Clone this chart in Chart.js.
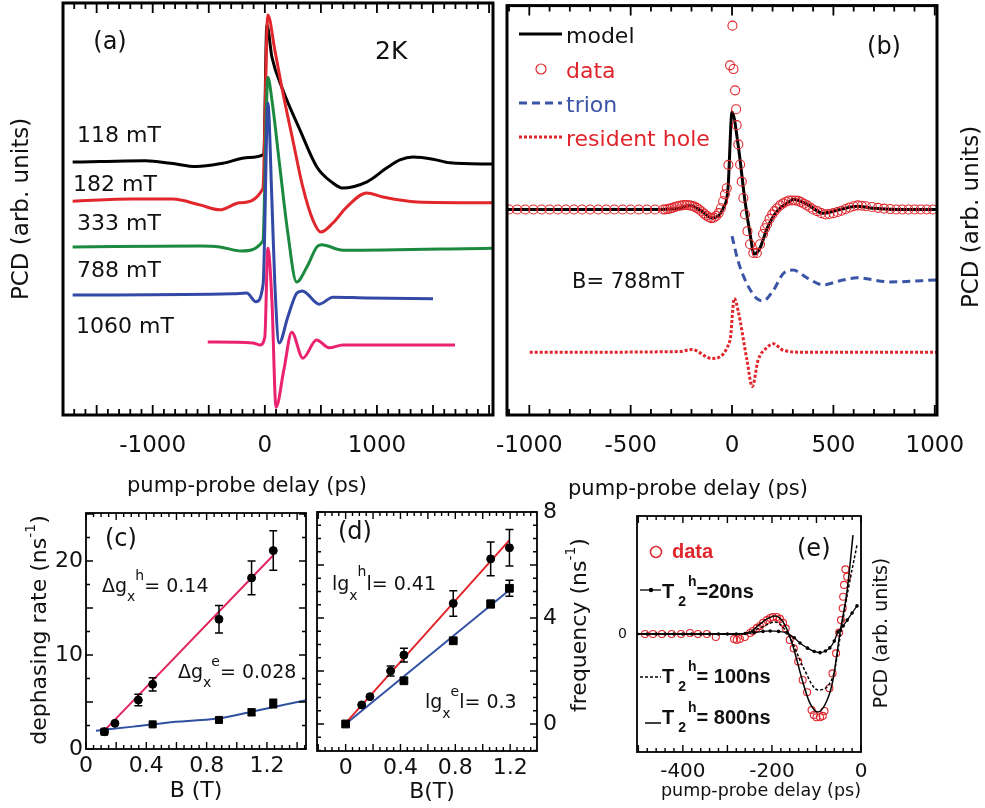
<!DOCTYPE html>
<html>
<head>
<meta charset="utf-8">
<script src="https://cdn.jsdelivr.net/npm/chart.js@4.4.1/dist/chart.umd.min.js"></script>
<style>
html, body { margin: 0; background: #fff; }
#lienzo { position: relative; width: 985px; height: 808px; }
#lienzo canvas { position: absolute; left: 0; top: 0; }
</style>
</head>
<body>
<div id="lienzo">
  <canvas id="ga" width="985" height="808"></canvas>
  <canvas id="gb" width="985" height="808"></canvas>
  <canvas id="gc" width="985" height="808"></canvas>
  <canvas id="gd" width="985" height="808"></canvas>
  <canvas id="ge" width="985" height="808"></canvas>
</div>
<script>
// ---------- (a) traces at 2K, offset vertically (arb. units) ----------
const tA118 = [-1714, -1473, -1063, -839, -610, -375, -143, -9, 18, 63, 161, 313, 464, 607, 690, 911, 1089, 1205, 1321, 1500, 1652, 2027];
const vA118 = [61.4, 61.5, 61.7, 61.1, 60.3, 61.1, 62.5, 63.3, 94.7, 86.9, 78.9, 69.2, 60.2, 56.3, 55.1, 56.6, 60.0, 61.9, 62.6, 62.1, 61.2, 60.9];
const tA182 = [-1714, -1179, -821, -580, -402, -223, -18, 27, 89, 161, 250, 339, 429, 500, 607, 732, 908, 1054, 1357, 2027];
const vA182 = [51.9, 52.4, 52.4, 51.0, 49.8, 51.5, 54.9, 97.1, 88.6, 78.2, 66.7, 55.3, 47.3, 44.4, 46.6, 50.5, 53.9, 52.9, 51.7, 51.5];
const tA333 = [-1714, -580, -402, -208, -18, 27, 63, 134, 205, 283, 375, 464, 506, 696, 2027];
const vA333 = [40.8, 41.0, 40.8, 39.8, 42.2, 82.0, 76.5, 60.2, 44.2, 32.3, 35.9, 40.8, 41.3, 40.0, 40.5];
const tA788 = [-1714, -286, -161, -80, -15, 27, 63, 89, 128, 205, 286, 335, 485, 607, 911, 1500];
const vA788 = [29.1, 29.4, 29.6, 27.5, 31.8, 75.7, 52.2, 32.0, 17.5, 23.8, 29.6, 30.1, 26.9, 28.6, 28.4, 28.2];
const tA1060 = [-509, -107, -45, 0, 27, 63, 100, 170, 240, 339, 461, 575, 696, 1696];
const vA1060 = [17.7, 17.5, 17.0, 18.9, 40.5, 27.9, 1.9, 11.0, 20.1, 13.8, 18.2, 16.3, 17.0, 17.0];
const ticksA = [-1000, 0, 1000];
const etiquetasA = ['-1000', '0', '1000'];

// ---------- (b) B = 788 mT ----------
const tModeloB = [-1110, -400, -272, -207, -150, -99, -44, -20, 0, 30, 64, 89, 109, 138, 173, 222, 286, 301, 370, 449, 533, 617, 696, 864, 1011];
const vModeloB = [50.2, 50.2, 50.4, 51.2, 49.8, 48.1, 50.5, 55.3, 74.0, 66.0, 52.2, 44.2, 39.3, 40.8, 45.6, 49.8, 52.2, 52.7, 51.5, 49.3, 50.2, 51.0, 50.5, 50.2, 50.2];
const tDatosB = [-1100, -1060, -1020, -980, -940, -900, -860, -820, -780, -740, -700, -660, -620, -580, -540, -500, -460, -420, -380, -340,
  -330, -318, -306, -294, -282, -270, -258, -246, -234, -222, -210, -198, -186, -174, -162, -150, -138, -126, -114, -102, -90, -78, -66, -55,
  -44, -35, -26, -18, -10, 2, 7, 15, 20, 23, 31, 40, 48, 56, 64, 76, 89, 105, 122, 138, 153, 163, 173, 185, 198, 210, 222, 237, 252, 267,
  281, 296, 311, 326, 340, 355, 370, 385, 400, 420, 440, 460, 480, 500, 520, 540, 560, 580, 600, 620, 640, 660, 690, 720, 750, 780, 810,
  840, 870, 900, 930, 960, 990];
const vDatosB = [50.2, 50.2, 50.2, 50.2, 50.2, 50.2, 50.2, 50.2, 50.2, 50.2, 50.2, 50.2, 50.2, 50.2, 50.2, 50.2, 50.2, 50.2, 50.2, 50.2,
  50.2, 50.3, 50.4, 50.6, 50.8, 51.0, 51.1, 51.2, 51.3, 51.3, 51.2, 51.1, 50.9, 50.6, 50.2, 49.7, 49.2, 48.7, 48.3, 48.1, 48.2, 48.6, 49.3, 50.5,
  52.2, 53.9, 55.4, 61.1, 85.4, 95.1, 84.5, 79.3, 74.7, 70.8, 66.1, 61.2, 57.0, 53.0, 49.0, 44.9, 41.7, 39.6, 39.6, 41.7, 44.2, 45.6, 46.6, 47.9, 49.0, 49.8, 50.5, 51.2, 51.7, 52.1,
  52.4, 52.4, 52.4, 52.3, 52.0, 51.6, 51.2, 50.7, 50.2, 49.8, 49.3, 49.0, 49.1, 49.3, 49.6, 49.9, 50.3, 50.7, 51.0, 51.2, 51.1, 51.0, 50.8, 50.6, 50.4, 50.3, 50.2,
  50.2, 50.2, 50.2, 50.2, 50.2, 50.2];
const tTrionB = [0, 30, 74, 123, 153, 202, 252, 301, 370, 449, 533, 617, 780, 1011];
const vTrionB = [43.7, 37.6, 32.0, 28.4, 27.9, 30.3, 34.5, 35.4, 33.5, 31.8, 32.8, 33.5, 32.5, 33.0];
const tHuecoB = [-998, -257, -198, -100, -10, 11, 30, 74, 100, 128, 173, 204, 253, 370, 1011];
const vHuecoB = [15.3, 15.5, 16.0, 13.8, 18.2, 28.5, 25.5, 13.3, 6.9, 13.3, 16.5, 17.4, 15.8, 15.3, 15.3];
const ticksB = [-1000, -500, 0, 500, 1000];
const etiquetasB = ['-1000', '-500', '0', '500', '1000'];

// ---------- (c) dephasing rate vs B ----------
const bHuecoC = [0.122, 0.192, 0.347, 0.442, 0.882, 1.098, 1.242];
const tasaHuecoC = [1.84, 2.73, 5.21, 6.88, 13.8, 18.2, 21.1];
const errHuecoC = [0, 0, 0.6, 0.7, 1.45, 1.8, 2.1];
const bElecC = [0.122, 0.442, 0.882, 1.098, 1.242];
const tasaElecC = [1.84, 2.62, 3.09, 3.9, 4.85];
const errElecC = [0, 0, 0, 0.35, 0.45];
const bAjusteHC = [0.122, 1.242];
const tasaAjusteHC = [1.95, 20.6];
const bAjusteEC = [0.066, 0.314, 0.535, 0.882, 1.098, 1.459];
const tasaAjusteEC = [1.95, 2.38, 2.8, 3.26, 3.97, 5.2];
const ticksXC = [0, 0.4, 0.8, 1.2];
const etiquetasXC = ['0', '0.4', '0.8', '1.2'];
const ticksYC = [0, 10, 20];
const etiquetasYC = ['0', '10', '20'];

// ---------- (d) frequency vs B ----------
const bHuecoD = [0.117, 0.177, 0.328, 0.425, 0.785, 1.058, 1.195];
const frecHuecoD = [0.72, 1.03, 2.0, 2.6, 4.55, 6.23, 6.65];
const errHuecoD = [0, 0, 0.19, 0.26, 0.48, 0.64, 0.69];
const bElecD = [0, 0.425, 0.785, 1.058, 1.195];
const frecElecD = [0, 1.63, 3.14, 4.53, 5.12];
const errElecD = [0, 0, 0, 0.14, 0.3];
const bAjusteHD = [0, 1.195];
const frecAjusteHD = [0.03, 6.94];
const bAjusteED = [0, 1.195];
const frecAjusteED = [0, 5.06];
const ticksXD = [0, 0.4, 0.8, 1.2];
const etiquetasXD = ['0', '0.4', '0.8', '1.2'];
const ticksYD = [0, 4, 8];
const etiquetasYD = ['0', '4', '8'];

// ---------- (e) negative delays ----------
const tDatosE = [-485, -467, -447, -425, -404, -384, -366, -346, -326, -285, -279, -272, -261, -249, -243, -234, -227, -220, -211, -204, -198, -189, -182,
  -175, -169, -160, -151, -141, -131, -121, -111, -106, -100, -92, -86, -82, -71, -64, -56, -49, -45, -41, -40, -38, -35, -31];
const vDatosE = [0, 0, 0, 0, 0, 0.4, 0, 0, -1.3, -2.1, -2.5, -2.1, -1.3, 0.4, 1.3, 2.5, 3.4, 4.7, 5.9, 6.8, 7.2, 7.2, 6.4,
  4.7, 2.4, -2.5, -6.1, -11.7, -19.5, -24.7, -32.2, -34.3, -35.3, -35.3, -34.7, -32.6, -23.0, -16.7, -8.2, 0.6, 5.9, 10.9, 15.8, 20.8, 27.4, 24.3];
const tE800 = [-503, -272, -249, -227, -211, -193, -175, -155, -130, -115, -97, -76, -63, -47, -31, -18];
const vE800 = [0, 0, 0.8, 4.2, 6.4, 7.6, 5.1, -3.8, -20.8, -29.2, -33.1, -28.0, -19.5, 0.8, 18.6, 41.9];
const tE100 = [-503, -272, -227, -193, -160, -130, -97, -63, -47, -29, -9];
const vE100 = [0, 0, 2.5, 5.1, -1.3, -14.0, -23.7, -18.1, -1.3, 18.6, 37.7];
const tE20 = [-503, -480, -460, -440, -420, -400, -380, -360, -340, -320, -300, -280, -260, -240, -220, -204, -185, -166, -150, -137, -120, -105, -92, -80, -70, -60, -52, -40, -31, -20, -9];
const vE20 = [0, 0, 0, 0, 0, 0, 0, 0, 0, 0, 0, 0, 0.2, 0.6, 1.1, 1.3, 1.1, 0.4, -1.6, -3.8, -6.0, -7.4, -7.9, -7.2, -5.9, -3.0, 0.8, 3.4, 5.9, 8.9, 11.9];
const ticksXE = [-400, -200, 0];
const etiquetasXE = ['-400', '-200', '0'];
const ticksYE = [0];
const etiquetasYE = ['0'];

// ---------- helpers ----------
const negro = '#111';
const DV = "'DejaVu Sans'";
Chart.defaults.font.family = DV;
Chart.defaults.color = negro;

function pts(xs, ys) {
  return xs.map((x, i) => ({x: x, y: ys[i]}));
}

function linea(xs, ys, color, ancho, extra) {
  return Object.assign({
    data: pts(xs, ys), showLine: true, borderColor: color, borderWidth: ancho,
    pointRadius: 0, cubicInterpolationMode: 'monotone', fill: false
  }, extra || {});
}

function ejeX(min, max, valores, etiquetas, tam, pad, alto, titulo) {
  return {
    type: 'linear', position: 'bottom', min: min, max: max,
    afterBuildTicks: s => { s.ticks = valores.map(v => ({value: v})); },
    afterFit: s => { s.height = alto; },
    ticks: {callback: (v, i) => etiquetas[i], font: {size: tam}, color: negro, padding: pad,
            maxRotation: 0, minRotation: 0, autoSkip: false},
    grid: {display: false, drawTicks: false},
    border: {display: false},
    title: titulo ? {display: true, text: titulo.texto, font: {size: titulo.tam}, color: negro,
                     padding: 0, align: titulo.align || 'center'} : {display: false}
  };
}

function ejeY(pos, min, max, valores, etiquetas, tam, pad, ancho, titulo) {
  const eje = {
    type: 'linear', position: pos, min: min, max: max,
    afterFit: s => { s.width = ancho; },
    ticks: {display: false},
    grid: {display: false, drawTicks: false},
    border: {display: false},
    title: titulo ? {display: true, text: titulo.texto, font: {size: titulo.tam}, color: negro, padding: 0} : {display: false}
  };
  if (valores) {
    eje.afterBuildTicks = s => { s.ticks = valores.map(v => ({value: v})); };
    eje.ticks = {display: true, callback: (v, i) => etiquetas[i], font: {size: tam}, color: negro, padding: pad, autoSkip: false};
  }
  return eje;
}

// frame around the plot area with inward tick marks
function conMarco(cfg) {
  return {
    id: 'marco',
    afterDatasetsDraw(chart) {
      const {ctx, chartArea: a} = chart;
      const x = chart.scales.x, y = chart.scales.y;
      ctx.save();
      ctx.strokeStyle = '#000';
      ctx.lineWidth = cfg.grosor;
      ctx.strokeRect(a.left, a.top, a.right - a.left, a.bottom - a.top);
      ctx.lineWidth = cfg.grosorMarca;
      ctx.beginPath();
      (cfg.marcasX || []).forEach(m => {
        for (let k = Math.ceil(x.min / m.paso - 1e-6); k * m.paso <= x.max + 1e-6; k++) {
          const px = x.getPixelForValue(k * m.paso);
          ctx.moveTo(px, a.bottom); ctx.lineTo(px, a.bottom - m.largo);
          ctx.moveTo(px, a.top); ctx.lineTo(px, a.top + m.largo);
        }
      });
      (cfg.marcasY || []).forEach(m => {
        for (let k = Math.ceil(y.min / m.paso - 1e-6); k * m.paso <= y.max + 1e-6; k++) {
          const py = y.getPixelForValue(k * m.paso);
          ctx.moveTo(a.left, py); ctx.lineTo(a.left + m.largo, py);
          ctx.moveTo(a.right, py); ctx.lineTo(a.right - m.largo, py);
        }
      });
      ctx.stroke();
      ctx.restore();
    }
  };
}

// vertical error bars taken from dataset.errores
const barras = {
  id: 'barras',
  afterDatasetsDraw(chart) {
    const ctx = chart.ctx, y = chart.scales.y;
    chart.data.datasets.forEach((ds, i) => {
      if (!ds.errores) return;
      const meta = chart.getDatasetMeta(i);
      ctx.save();
      ctx.strokeStyle = '#000';
      ctx.lineWidth = 1.5;
      meta.data.forEach((p, j) => {
        const e = ds.errores[j];
        if (!e) return;
        const v = ds.data[j].y;
        const y1 = y.getPixelForValue(v - e), y2 = y.getPixelForValue(v + e);
        ctx.beginPath();
        ctx.moveTo(p.x, y1); ctx.lineTo(p.x, y2);
        ctx.moveTo(p.x - 4, y1); ctx.lineTo(p.x + 4, y1);
        ctx.moveTo(p.x - 4, y2); ctx.lineTo(p.x + 4, y2);
        ctx.stroke();
      });
      ctx.restore();
    });
  }
};

function escribir(ctx, it) {
  const partes = it.partes || [{s: it.s}];
  ctx.translate(it.x, it.y);
  if (it.rot) ctx.rotate(it.rot);
  ctx.textBaseline = 'middle';
  ctx.textAlign = 'left';
  let total = 0;
  const anchos = partes.map(p => {
    ctx.font = p.f || it.f;
    const w = ctx.measureText(p.s).width + (p.dx || 0);
    total += w;
    return w;
  });
  let x0 = it.a === 'center' ? -total / 2 : (it.a === 'right' ? -total : 0);
  partes.forEach((p, k) => {
    ctx.font = p.f || it.f;
    ctx.fillStyle = p.c || it.c || negro;
    ctx.fillText(p.s, x0 + (p.dx || 0), p.dy || 0);
    x0 += anchos[k];
  });
}

// free text, legend samples and rich labels
function conTextos(items) {
  return {
    id: 'textos',
    afterDraw(chart) {
      const ctx = chart.ctx;
      items.forEach(it => {
        ctx.save();
        if (it.linea) {
          ctx.strokeStyle = it.c; ctx.lineWidth = it.lw;
          ctx.setLineDash(it.dash || []);
          ctx.beginPath(); ctx.moveTo(it.linea[0], it.linea[2]); ctx.lineTo(it.linea[1], it.linea[2]); ctx.stroke();
        } else if (it.circulo) {
          ctx.beginPath(); ctx.arc(it.circulo[0], it.circulo[1], it.circulo[2], 0, Math.PI * 2);
          if (it.relleno) { ctx.fillStyle = it.c; ctx.fill(); }
          else { ctx.strokeStyle = it.c; ctx.lineWidth = it.lw; ctx.stroke(); }
        } else {
          escribir(ctx, it);
        }
        ctx.restore();
      });
    }
  };
}

function panel(id, area, escalas, datasets, extras) {
  return new Chart(document.getElementById(id), {
    type: 'scatter',
    data: {datasets: datasets},
    options: {
      responsive: false, animation: false, devicePixelRatio: 1,
      layout: {padding: {left: area.l - (area.wy || 0), top: area.t,
                         right: 985 - area.r - (area.wr || 0), bottom: 808 - area.b - area.hx}},
      scales: escalas,
      plugins: {legend: {display: false}, tooltip: {enabled: false}}
    },
    plugins: [barras].concat(extras)
  });
}

const f = (tam) => tam + 'px ' + DV;
const fb = (tam) => 'bold ' + tam + "px 'Liberation Sans'";

// ---------- (a) ----------
panel('ga', {l: 63, t: 3, r: 493, b: 415, wy: 55, hx: 50}, {
  x: ejeX(-1800, 2035, ticksA, etiquetasA, 23, 17, 50, null),
  y: ejeY('left', 0, 100, null, null, 0, 0, 55, {texto: 'PCD (arb. units)', tam: 23})
}, [
  linea(tA1060, vA1060, '#ea2270', 3),
  linea(tA788, vA788, '#3349a6', 3),
  linea(tA333, vA333, '#1b8a3f', 3),
  linea(tA182, vA182, '#e1262c', 3),
  linea(tA118, vA118, '#000', 3)
], [
  conMarco({grosor: 3, grosorMarca: 1.8, marcasX: [{paso: 100, largo: 6}, {paso: 500, largo: 10}]}),
  conTextos([
    {x: 110, y: 43, s: '(a)', f: f(24), a: 'center'},
    {x: 375, y: 52, s: '2K', f: f(25)},
    {x: 77, y: 136, s: '118 mT', f: f(22)},
    {x: 73, y: 185, s: '182 mT', f: f(22)},
    {x: 77, y: 224, s: '333 mT', f: f(22)},
    {x: 77, y: 271, s: '788 mT', f: f(22)},
    {x: 76, y: 327, s: '1060 mT', f: f(22)},
    {x: 127, y: 487, s: 'pump-probe delay (ps)', f: f(21)}
  ])
]);

// ---------- (b) ----------
panel('gb', {l: 507, t: 3, r: 937, b: 415, hx: 50}, {
  x: ejeX(-1110, 1011, ticksB, etiquetasB, 23, 17, 50, null),
  y: {type: 'linear', display: false, min: 0, max: 100}
}, [
  {data: pts(tDatosB, vDatosB), pointStyle: 'circle', pointRadius: 4.5, pointBorderWidth: 1.1,
   pointBorderColor: '#e0262c', pointBackgroundColor: 'rgba(0,0,0,0)'},
  linea(tModeloB, vModeloB, '#000', 3),
  linea(tTrionB, vTrionB, '#3a55a8', 3, {borderDash: [8, 5]}),
  linea(tHuecoB, vHuecoB, '#e0262c', 3, {borderDash: [3, 2]})
], [
  conMarco({grosor: 3, grosorMarca: 1.8, marcasX: [{paso: 100, largo: 6}, {paso: 500, largo: 10}]}),
  conTextos([
    {linea: [519, 562, 34], c: '#000', lw: 3},
    {x: 566, y: 37, s: 'model', f: f(22)},
    {circulo: [541, 69, 5], c: '#e0262c', lw: 1.2},
    {x: 566, y: 72, s: 'data', f: f(22), c: '#e0262c'},
    {linea: [519, 562, 103], c: '#3a55a8', lw: 3, dash: [8, 5]},
    {x: 566, y: 106, s: 'trion', f: f(22), c: '#3a55a8'},
    {linea: [519, 562, 137], c: '#e0262c', lw: 3, dash: [3, 2]},
    {x: 566, y: 140, s: 'resident hole', f: f(22), c: '#e0262c'},
    {x: 884, y: 48, s: '(b)', f: f(24), a: 'center'},
    {x: 572, y: 283, s: 'B= 788mT', f: f(21)},
    {x: 568, y: 490, s: 'pump-probe delay (ps)', f: f(21)},
    {x: 972, y: 217, s: 'PCD (arb. units)', f: f(23), a: 'center', rot: -Math.PI / 2}
  ])
]);

// ---------- (c) ----------
panel('gc', {l: 86, t: 513, r: 306, b: 749, wy: 50, hx: 55}, {
  x: ejeX(0, 1.459, ticksXC, etiquetasXC, 22, 4, 55, {texto: 'B (T)', tam: 22}),
  y: ejeY('left', 0, 25.1, ticksYC, etiquetasYC, 22, 3, 50, null)
}, [
  {data: pts(bHuecoC, tasaHuecoC), errores: errHuecoC, pointStyle: 'circle', pointRadius: 4,
   pointBackgroundColor: '#000', pointBorderColor: '#000'},
  {data: pts(bElecC, tasaElecC), errores: errElecC, pointStyle: 'rect', pointRadius: 5,
   pointBackgroundColor: '#000', pointBorderColor: '#000'},
  linea(bAjusteHC, tasaAjusteHC, '#e2245e', 2),
  linea(bAjusteEC, tasaAjusteEC, '#3050a0', 2)
], [
  conMarco({grosor: 1.8, grosorMarca: 1.4, marcasX: [{paso: 0.05, largo: 4}, {paso: 0.2, largo: 7}],
            marcasY: [{paso: 2.5, largo: 4}, {paso: 5, largo: 7}]}),
  conTextos([
    {x: 105, y: 540, s: '(c)', f: f(24)},
    {x: 102, y: 587, f: f(19), partes: [{s: 'Δg'}, {s: 'x', f: f(14), dy: 10}, {s: 'h', f: f(14), dy: -11}, {s: '= 0.14'}]},
    {x: 178, y: 673, f: f(19), partes: [{s: 'Δg'}, {s: 'x', f: f(14), dy: 10}, {s: 'e', f: f(14), dy: -11}, {s: '= 0.028'}]},
    {x: 40, y: 630, f: f(22), a: 'center', rot: -Math.PI / 2,
     partes: [{s: 'dephasing rate (ns'}, {s: '-1', f: f(14), dy: -9}, {s: ')'}]}
  ])
]);

// ---------- (d) ----------
panel('gd', {l: 317, t: 512, r: 537, b: 751, wr: 40, hx: 55}, {
  x: ejeX(-0.209, 1.396, ticksXD, etiquetasXD, 22, 4, 55, null),
  y: ejeY('right', -1.02, 8.0, ticksYD, etiquetasYD, 22, 6, 40, null)
}, [
  {data: pts(bHuecoD, frecHuecoD), errores: errHuecoD, pointStyle: 'circle', pointRadius: 4,
   pointBackgroundColor: '#000', pointBorderColor: '#000'},
  {data: pts(bElecD, frecElecD), errores: errElecD, pointStyle: 'rect', pointRadius: 5.5,
   pointBackgroundColor: '#000', pointBorderColor: '#000'},
  linea(bAjusteHD, frecAjusteHD, '#e3262b', 2),
  linea(bAjusteED, frecAjusteED, '#3352a3', 2)
], [
  conMarco({grosor: 1.8, grosorMarca: 1.4, marcasX: [{paso: 0.05, largo: 4}, {paso: 0.2, largo: 7}],
            marcasY: [{paso: 0.5, largo: 4}, {paso: 2, largo: 7}]}),
  conTextos([
    {x: 338, y: 533, s: '(d)', f: f(24)},
    {x: 332, y: 585, f: f(19), partes: [{s: 'lg'}, {s: 'x', f: f(14), dy: 11}, {s: 'h', f: f(14), dy: -13}, {s: 'l= 0.41'}]},
    {x: 425, y: 703, f: f(19), partes: [{s: 'lg'}, {s: 'x', f: f(14), dy: 11}, {s: 'e', f: f(14), dy: -11}, {s: 'l= 0.3'}]},
    {x: 432, y: 792, s: 'B(T)', f: f(22), a: 'center'},
    {x: 580, y: 625, f: f(22), a: 'center', rot: -Math.PI / 2,
     partes: [{s: 'frequency (ns'}, {s: '-1', f: f(14), dy: -9}, {s: ')'}]}
  ])
]);

// ---------- (e) ----------
panel('ge', {l: 637, t: 516, r: 861, b: 752, wy: 30, hx: 50}, {
  x: ejeX(-503, 0, ticksXE, etiquetasXE, 20, 8, 50, {texto: 'pump-probe delay (ps)', tam: 17.5, align: 'end'}),
  y: ejeY('left', -50, 50, ticksYE, etiquetasYE, 14, 10, 30, null)
}, [
  linea(tE800, vE800, '#000', 1.5),
  linea(tE100, vE100, '#000', 1.5, {borderDash: [3, 2]}),
  linea(tE20, vE20, '#000', 1.3, {pointRadius: 1.8, pointBackgroundColor: '#000', pointBorderWidth: 0}),
  {data: pts(tDatosE, vDatosE), pointStyle: 'circle', pointRadius: 3.5, pointBorderWidth: 1.1,
   pointBorderColor: '#e0262c', pointBackgroundColor: 'rgba(0,0,0,0)'}
], [
  conMarco({grosor: 1.8, grosorMarca: 1.4, marcasX: [{paso: 20, largo: 4}, {paso: 100, largo: 7}]}),
  conTextos([
    {circulo: [656, 552, 5.5], c: '#e0262c', lw: 1.5},
    {x: 672, y: 552, s: 'data', f: fb(20), c: '#e0262c'},
    {linea: [640, 661, 590], c: '#000', lw: 1.3},
    {circulo: [651, 590, 2.2], c: '#000', relleno: true},
    {x: 662, y: 592, f: fb(20), partes: [{s: 'T'}, {s: '2', f: fb(14), dy: 10, dx: 4}, {s: 'h', f: fb(14), dy: -10, dx: 2}, {s: '=20ns'}]},
    {linea: [640, 661, 677], c: '#000', lw: 1.5, dash: [3, 2]},
    {x: 662, y: 677, f: fb(20), partes: [{s: 'T'}, {s: '2', f: fb(14), dy: 10, dx: 4}, {s: 'h', f: fb(14), dy: -10, dx: 2}, {s: '= 100ns'}]},
    {linea: [645, 661, 723], c: '#000', lw: 1.5},
    {x: 662, y: 718, f: fb(20), partes: [{s: 'T'}, {s: '2', f: fb(14), dy: 10, dx: 4}, {s: 'h', f: fb(14), dy: -10, dx: 2}, {s: '= 800ns'}]},
    {x: 797, y: 550, s: '(e)', f: f(24)},
    {x: 882, y: 633, s: 'PCD (arb. units)', f: f(19), a: 'center', rot: -Math.PI / 2}
  ])
]);
</script>
</body>
</html>
